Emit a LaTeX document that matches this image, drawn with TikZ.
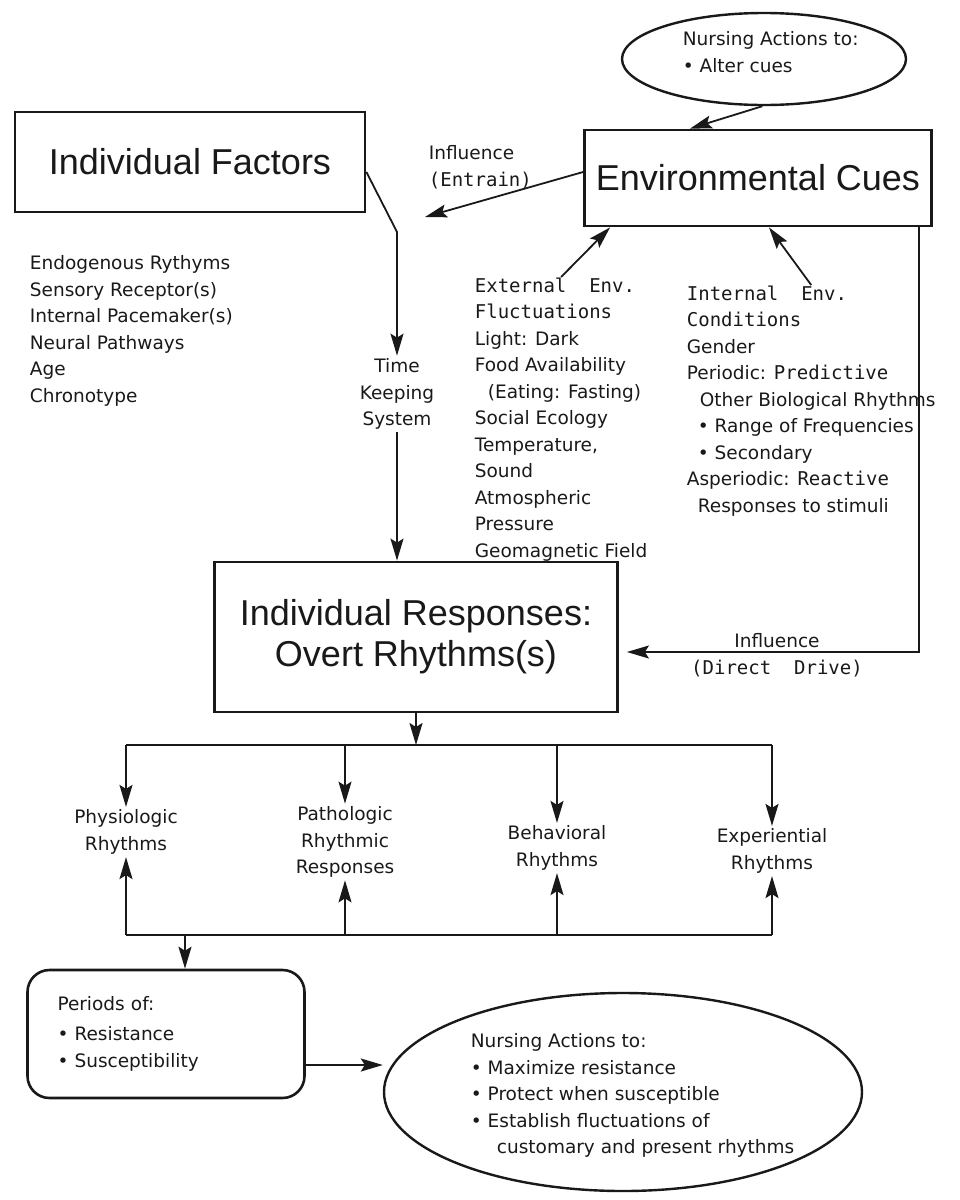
\documentclass[tikz,border=0pt]{standalone}
\usepackage{fontspec}
\setmainfont{DejaVu Sans}
\newfontfamily\headfont{Liberation Sans}
\newfontfamily\typefont{DejaVu Sans Mono}
\usetikzlibrary{arrows.meta,shapes.geometric}
\newcommand{\mono}[1]{{\typefont\fontsize{19}{26.5}\selectfont #1}}
\begin{document}
\begin{tikzpicture}[x=1pt, y=-1pt, line width=1.8pt, color=black!90,
	every node/.style={font=\fontsize{18.5}{26.5}\selectfont},
	arr/.style={-{Stealth[length=22pt,width=13pt,inset=4pt]}},
	mainbox/.style={draw, line width=2.8pt, align=center, font=\fontsize{36}{41}\selectfont\headfont},
	cloud/.style={draw, ellipse, line width=2.4pt},
	txt/.style={align=left, inner sep=0pt},
	rhythm/.style={align=center, inner sep=2pt}]
	\useasboundingbox (0,0) rectangle (959,1200);

	% 框与椭圆
	\node[cloud, minimum width=284pt, minimum height=92pt] (alter) at (764,59) {};
	\node[txt, anchor=north west] (altertxt) at (682,31) {Nursing Actions to:\\• Alter cues};
	\node[mainbox, minimum width=350pt, minimum height=100pt] (factors) at (190,162) {Individual Factors};
	\node[mainbox, minimum width=347pt, minimum height=96pt] (env) at (758,178) {Environmental Cues};
	\node[mainbox, minimum width=403pt, minimum height=150pt] (resp) at (416,637) {Individual Responses:\\Overt Rhythms(s)};

	% 文字列表
	\node[txt, anchor=north west] (factlist) at (29,255) {Endogenous Rythyms\\Sensory Receptor(s)\\Internal Pacemaker(s)\\Neural Pathways\\Age\\Chronotype};
	\node[txt, anchor=north west] (ext) at (474,277) {\mono{External~~Env.}\\\mono{Fluctuations}\\Light: Dark\\Food Availability\\\hspace{13pt}(Eating: Fasting)\\Social Ecology\\Temperature,\\Sound\\Atmospheric\\Pressure\\Geomagnetic Field};
	\node[txt, anchor=north west] (int) at (686,285) {\mono{Internal~~Env.}\\\mono{Conditions}\\Gender\\Periodic: \mono{Predictive}\\\hspace{13pt}Other Biological Rhythms\\\hspace{11pt}• Range of Frequencies\\\hspace{11pt}• Secondary\\Asperiodic: \mono{Reactive}\\\hspace{11pt}Responses to stimuli};
	\node[align=center, inner sep=2pt] (timekeep) at (397,394) {Time\\Keeping\\System};
	\node[txt, anchor=north west] (entrain) at (428,145) {Influence\\\mono{(Entrain)}};
	\node[align=center] (drive) at (777,655) {Influence\\\mono{(Direct~~Drive)}};

	% 节律
	\node[rhythm] (physio) at (126,832) {Physiologic\\Rhythms};
	\node[rhythm] (patho) at (345,842) {Pathologic\\Rhythmic\\Responses};
	\node[rhythm] (behav) at (557,848) {Behavioral\\Rhythms};
	\node[rhythm] (exper) at (772,851) {Experiential\\Rhythms};

	\node[draw, rounded corners=22pt, line width=2.6pt, minimum width=277pt, minimum height=128pt,
		inner xsep=30pt, text width=217pt, align=left] (periods) at (166,1034)
		{\fontsize{18.5}{30}\selectfont Periods of:\\• Resistance\\• Susceptibility};
	\node[cloud, minimum width=478pt, minimum height=198pt] (actions) at (623,1092) {};
	\node[txt, anchor=north west] (actionstxt) at (470,1033) {Nursing Actions to:\\• Maximize resistance\\• Protect when susceptible\\• Establish fluctuations of\\\hspace{26pt}customary and present rhythms};

	% 连线
	\draw[arr] (alter.-92) -- ([xshift=-68pt]env.north);
	\coordinate (entrainend) at (425,217);
	\draw[arr] ([yshift=6pt]env.west) -- (entrainend);
	\coordinate (bend) at (0,232);
	\draw[arr] ([yshift=-10pt]factors.east) -- (timekeep.north |- bend) -- (timekeep.north);
	\draw[arr] (timekeep.south) -- (timekeep.south |- resp.north);
	\draw[arr] (ext.north) -- ([xshift=27pt]env.south west);
	\draw[arr] (int.north) -- ([xshift=11pt]env.south);
	\draw[arr, shorten >=8pt] ([xshift=-14pt]env.south east) |- ([yshift=-15pt]resp.east);

	% 上下总线
	\coordinate (bus) at (0,745);
	\coordinate (lowbus) at (0,935);
	\draw[arr] (resp.south) -- (resp.south |- bus);
	\draw (physio.north |- bus) -- (exper.north |- bus);
	\draw (physio.south |- lowbus) -- (exper.south |- lowbus);
	\foreach \n in {physio,patho,behav,exper} {
		\draw[arr] (\n.north |- bus) -- (\n.north);
		\draw[arr] (\n.south |- lowbus) -- (\n.south);
	}
	\coordinate (lowdrop) at (185,935);
	\draw[arr] (lowdrop) -- (lowdrop |- periods.north);
	\coordinate (pout) at ([yshift=-31pt]periods.east);
	\draw[arr] (pout) -- (pout -| actions.west);
\end{tikzpicture}
\end{document}
